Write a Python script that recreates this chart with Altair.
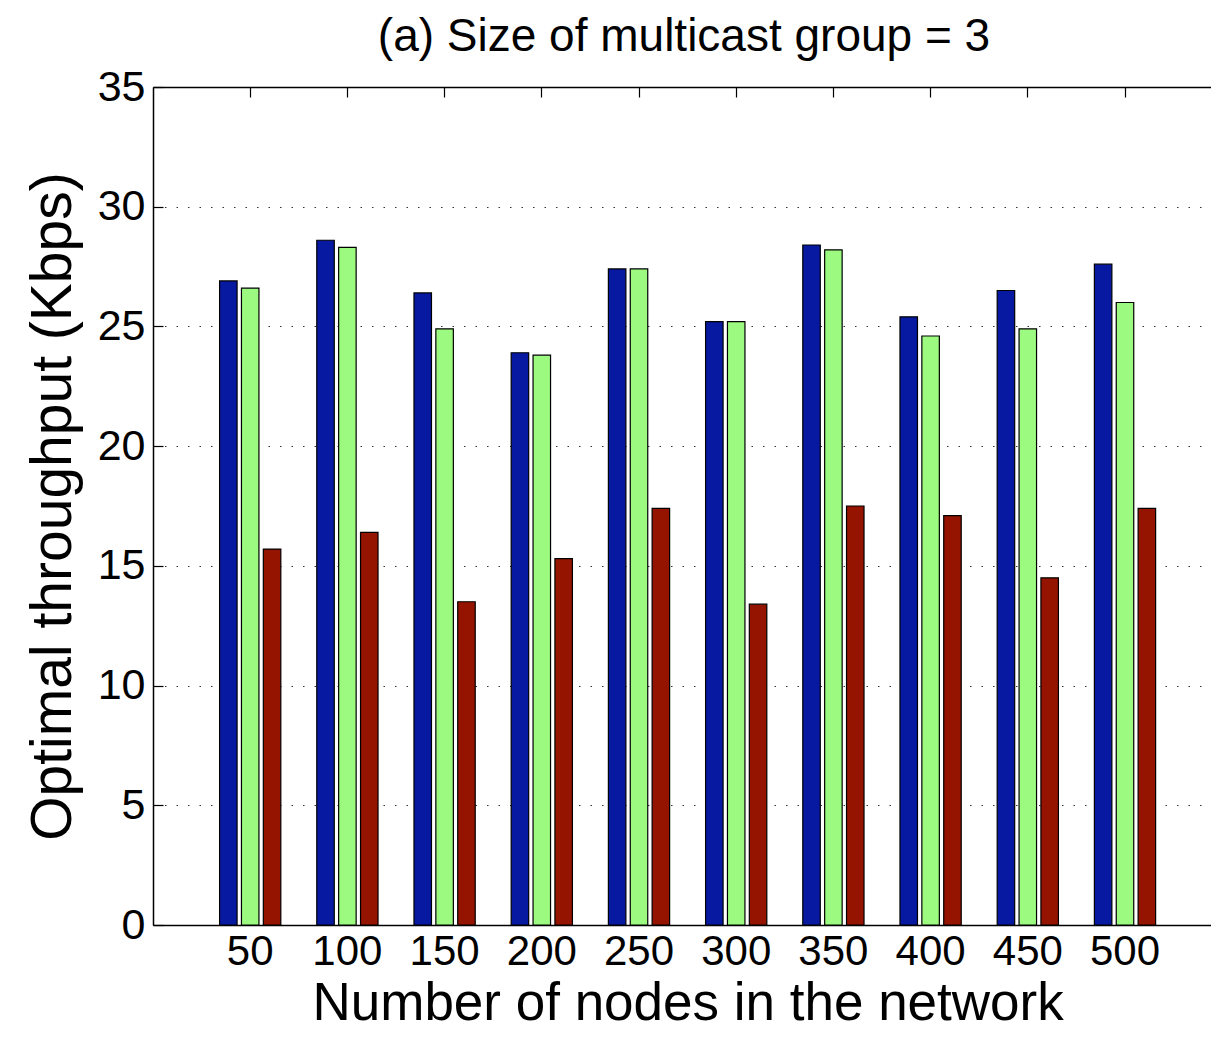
import altair as alt
import pandas as pd

nodes = ["50", "100", "150", "200", "250", "300", "350", "400", "450", "500"]
series_names = ["Series 1", "Series 2", "Series 3"]
blue_vals = [26.9, 28.6, 26.4, 23.9, 27.4, 25.2, 28.4, 25.4, 26.5, 27.6]
green_vals = [26.6, 28.3, 24.9, 23.8, 27.4, 25.2, 28.2, 24.6, 24.9, 26.0]
red_vals = [15.7, 16.4, 13.5, 15.3, 17.4, 13.4, 17.5, 17.1, 14.5, 17.4]
colors = ["#0619A0", "#9DFA80", "#941400"]
y_ticks = [0, 5, 10, 15, 20, 25, 30, 35]

rows = []
for i, n in enumerate(nodes):
    for s, vals in zip(series_names, [blue_vals, green_vals, red_vals]):
        rows.append({"nodes": n, "series": s, "value": vals[i]})
df = pd.DataFrame(rows)

FONT = "Liberation Sans"
W, H = 1058, 838
STEP = 97.2

xscale = alt.Scale(domain=nodes, range=[0, STEP * 11], paddingInner=0.37, paddingOuter=0.685)
yscale = alt.Scale(domain=[0, 35], nice=False, zero=True)
off_scale = alt.Scale(domain=series_names, paddingInner=0.2, paddingOuter=0)

base = alt.Chart(df)

bars = base.mark_bar(stroke="black", strokeWidth=1.2).encode(
    x=alt.X("nodes:N", scale=xscale, sort=nodes,
            axis=alt.Axis(title="Number of nodes in the network", labelAngle=0,
                          labelFontSize=42, titleFontSize=53, labelFont=FONT, titleFont=FONT,
                          labelColor="black", titleColor="black", labelPadding=6,
                          titlePadding=5, ticks=False, domainColor="black", domainWidth=1.5,
                          labelFontWeight="normal", titleFontWeight="normal")),
    xOffset=alt.XOffset("series:N", scale=off_scale, sort=series_names),
    y=alt.Y("value:Q", scale=yscale,
            axis=alt.Axis(title="Optimal throughput (Kbps)", values=y_ticks,
                          labelFontSize=43, titleFontSize=57, labelFont=FONT, titleFont=FONT,
                          labelColor="black", titleColor="black", labelPadding=8,
                          titlePadding=15, ticks=False, grid=True, gridColor="#333333",
                          gridDash=[1.5, 10], gridWidth=1.2, domainColor="black", domainWidth=1.5,
                          titleFontWeight="normal")),
    color=alt.Color("series:N", scale=alt.Scale(domain=series_names, range=colors), legend=None),
)

ticks_layer = base.mark_bar(opacity=0).encode(
    x=alt.X("nodes:N", scale=xscale, sort=nodes,
            axis=alt.Axis(orient="bottom", offset=-H, labels=False, title=None, ticks=True,
                          tickSize=10, tickColor="black", tickWidth=1.2, domainColor="black",
                          domainWidth=1.5, grid=False)),
    xOffset=alt.XOffset("series:N", scale=off_scale, sort=series_names),
    y=alt.Y("value:Q", scale=yscale,
            axis=alt.Axis(orient="right", offset=-W, values=y_ticks, labels=False, title=None,
                          ticks=True, tickSize=10, tickColor="black", tickWidth=1.2,
                          domain=False, grid=False)),
)

chart = alt.layer(bars, ticks_layer).resolve_axis(
    x="independent", y="independent"
).properties(
    width=W, height=H,
    autosize=alt.AutoSizeParams(type="none"),
    padding={"left": 145, "top": 79, "right": 0, "bottom": 106},
    background="white",
    title=alt.TitleParams("(a) Size of multicast group = 3", fontSize=46, font=FONT,
                          fontWeight="normal", color="black", offset=5, anchor="middle", dx=2),
).configure_view(stroke=None)

chart.save("out.html", embed_options={"renderer": "svg", "actions": False})
